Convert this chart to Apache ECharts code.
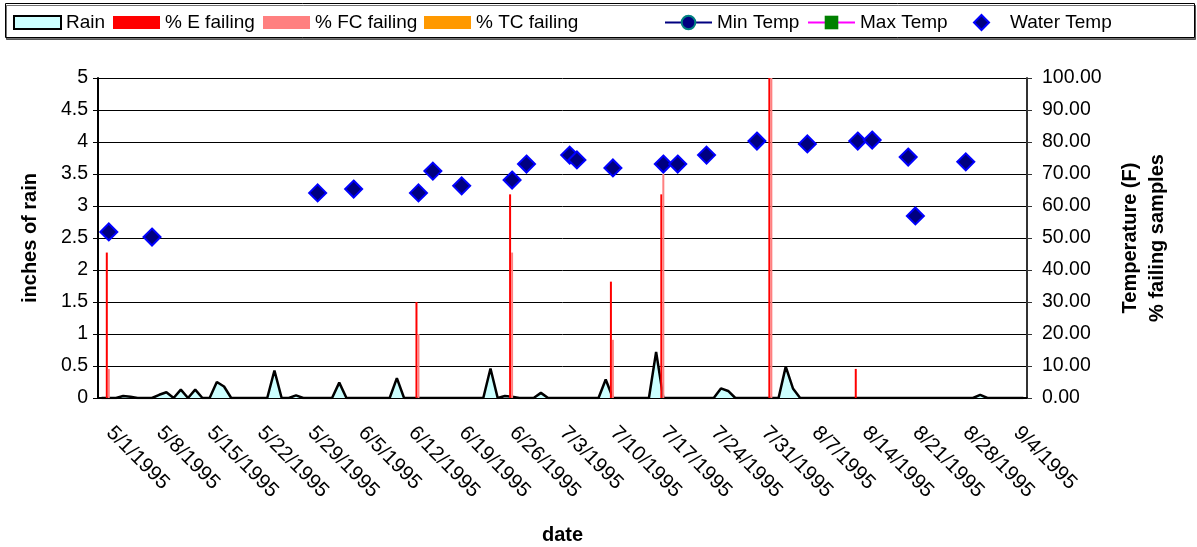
<!DOCTYPE html>
<html>
<head>
<meta charset="utf-8">
<script src="https://cdn.jsdelivr.net/npm/echarts@6/dist/echarts.min.js"></script>
<style>
  html, body { margin: 0; padding: 0; background: #fff; }
  #chart { width: 1197px; height: 547px; }
</style>
</head>
<body>
<div id="chart"></div>
<script>
// Daily date axis, 5/1/1995 through 9/6/1995
const firstDay = [1995, 5, 1];
const dayCount = 129;

// Rain (inches) on days with measurable rain; all other days are 0
const rainDates  = ['5/4', '5/5', '5/9', '5/10', '5/12', '5/14', '5/17', '5/18', '5/25', '5/28',
                    '6/3', '6/11', '6/24', '6/26', '6/27', '7/1', '7/10', '7/17', '7/26', '7/27',
                    '8/4', '8/5', '8/31'];
const rainInches = [0.03, 0.02, 0.05, 0.09, 0.13, 0.13, 0.25, 0.18, 0.43, 0.04,
                    0.24, 0.31, 0.46, 0.03, 0.02, 0.08, 0.29, 0.72, 0.15, 0.11,
                    0.49, 0.15, 0.05];

// Percent of samples failing, by sampling day
const sampleDates = ['5/2', '6/14', '6/27', '7/11', '7/18', '8/2', '8/14'];
const eFailing    = [45.45, 30.0, 63.64, 36.36, 63.64, 100.0, 9.09];
const fcFailing   = [9.09, 20.0, 45.45, 18.18, 70.0, 100.0, 0];
const tcFailing   = [0, 0, 0, 0, 0, 0, 0];

// Water temperature (F)
const waterDates = ['5/2', '5/8', '5/31', '6/5', '6/14', '6/16', '6/20', '6/27', '6/29', '7/5', '7/6',
                    '7/11', '7/18', '7/20', '7/24', '7/31', '8/7', '8/14', '8/16', '8/21', '8/22', '8/29'];
const waterTemp  = [51.9, 50.3, 64.1, 65.3, 64.1, 70.9, 66.3, 68.1, 73.1, 75.9, 74.4,
                    71.9, 73.1, 73.1, 75.9, 80.3, 79.4, 80.3, 80.6, 75.3, 56.9, 73.8];

// Min / Max air temperature (no readings plotted)
const minTemp = [];
const maxTemp = [];

const FONT = '"Liberation Sans", Arial, sans-serif';
const TICK_SIZE = 19.5;
const DATE_SIZE = 20.5;
const TITLE_SIZE = 20;

const categories = [];
for (let i = 0; i < dayCount; i++) {
  const d = new Date(Date.UTC(firstDay[0], firstDay[1] - 1, firstDay[2] + i));
  categories.push((d.getUTCMonth() + 1) + '/' + d.getUTCDate() + '/' + d.getUTCFullYear());
}
const indexOf = md => categories.indexOf(md + '/1995');

function daily(dates, values) {
  const out = new Array(dayCount).fill(null);
  dates.forEach((md, k) => { out[indexOf(md)] = values[k]; });
  return out;
}

const rainSeries = new Array(dayCount).fill(0);
rainDates.forEach((md, k) => { rainSeries[indexOf(md)] = rainInches[k]; });

// One legend block per entry so each sits at its own column
function legendEntry(left, item, iconHeight) {
  return {
    left: left, top: 13, padding: 0,
    itemWidth: 47, itemHeight: iconHeight || 13,
    textStyle: { fontSize: 19, color: '#000', fontFamily: FONT },
    data: [item]
  };
}

const chart = echarts.init(document.getElementById('chart'), null, { renderer: 'canvas' });

chart.setOption({
  animation: false,
  textStyle: { fontFamily: FONT },
  graphic: [{
    type: 'rect',
    shape: { x: 5.5, y: 3.5, width: 1189, height: 34 },
    style: { fill: '#fff', stroke: '#000', lineWidth: 1, shadowColor: 'rgba(0,0,0,0.55)', shadowOffsetX: 1, shadowOffsetY: 2 },
    z: -10
  }],
  legend: [
    legendEntry(13, { name: 'Rain', icon: 'rect', itemStyle: { color: '#CCFFFF', borderColor: '#000', borderWidth: 2 } }),
    legendEntry(113, { name: '% E failing', icon: 'rect' }),
    legendEntry(263, { name: '% FC failing', icon: 'rect' }),
    legendEntry(424, { name: '% TC failing', icon: 'rect' }),
    legendEntry(664, { name: 'Min Temp' }, 17),
    legendEntry(807, { name: 'Max Temp' }, 17),
    legendEntry(973, { name: 'Water Temp', icon: 'path://M8,0L16,8L8,16L0,8Z' }, 15)
  ],
  grid: { left: 98, right: 170, top: 78, bottom: 149, outerBoundsMode: 'none', containLabel: false },
  xAxis: [{
    type: 'category',
    data: categories,
    boundaryGap: true,
    name: 'date',
    nameLocation: 'middle',
    nameGap: 127,
    nameTextStyle: { fontSize: TITLE_SIZE, fontWeight: 'bold', color: '#000' },
    axisLine: { lineStyle: { color: '#000', width: 2 } },
    axisTick: { interval: 6, length: 6, lineStyle: { color: '#000' } },
    axisLabel: { interval: 6, rotate: -45, margin: 24, padding: [0, 0, 0, 11], fontSize: DATE_SIZE, color: '#000' },
    splitLine: { show: false }
  }, {
    type: 'category',
    data: categories,
    position: 'bottom',
    boundaryGap: true,
    axisLine: { show: false },
    axisTick: { interval: 0, inside: true, length: 4, lineStyle: { color: '#777' } },
    axisLabel: { show: false },
    splitLine: { show: false }
  }],
  yAxis: [{
    type: 'value',
    min: 0, max: 5, interval: 0.5,
    name: 'inches of rain',
    nameLocation: 'middle',
    nameRotate: 90,
    nameGap: 58,
    nameTextStyle: { fontSize: TITLE_SIZE, fontWeight: 'bold', color: '#000' },
    axisLine: { show: true, lineStyle: { color: '#000', width: 2 } },
    axisTick: { show: true, length: 5, lineStyle: { color: '#000' } },
    axisLabel: { fontSize: TICK_SIZE, color: '#000', margin: 10 },
    splitLine: { show: true, lineStyle: { color: '#000', width: 1 } }
  }, {
    type: 'value',
    position: 'right',
    min: 0, max: 100, interval: 10,
    name: 'Temperature (F)\n% failing samples',
    nameLocation: 'middle',
    nameRotate: 90,
    nameGap: 90,
    nameTextStyle: { fontSize: TITLE_SIZE, fontWeight: 'bold', color: '#000', lineHeight: 27 },
    axisLine: { show: true, lineStyle: { color: '#333', width: 2 } },
    axisTick: { show: true, length: 5, lineStyle: { color: '#333' } },
    axisLabel: { fontSize: TICK_SIZE, color: '#000', margin: 15, formatter: v => v.toFixed(2) },
    splitLine: { show: false }
  }],
  series: [{
    name: 'Rain',
    type: 'line',
    xAxisIndex: 0, yAxisIndex: 0,
    data: rainSeries,
    symbol: 'none',
    color: '#000',
    lineStyle: { color: '#000', width: 2.5 },
    areaStyle: { color: '#CCFFFF', opacity: 1 },
    z: 2
  }, {
    name: '% E failing',
    type: 'bar',
    yAxisIndex: 1,
    data: daily(sampleDates, eFailing),
    barWidth: 2, barGap: '0%',
    itemStyle: { color: '#FF0000' },
    z: 3
  }, {
    name: '% FC failing',
    type: 'bar',
    yAxisIndex: 1,
    data: daily(sampleDates, fcFailing),
    barWidth: 2, barGap: '0%',
    itemStyle: { color: '#FF8080' },
    z: 3
  }, {
    name: '% TC failing',
    type: 'bar',
    yAxisIndex: 1,
    data: daily(sampleDates, tcFailing),
    barWidth: 2, barGap: '0%',
    itemStyle: { color: '#FF9900' },
    z: 3
  }, {
    name: 'Min Temp',
    type: 'line',
    yAxisIndex: 1,
    data: minTemp,
    symbol: 'circle', symbolSize: 14,
    lineStyle: { color: '#000080', width: 1.5 },
    itemStyle: { color: '#000080', borderColor: '#008080', borderWidth: 2 }
  }, {
    name: 'Max Temp',
    type: 'line',
    yAxisIndex: 1,
    data: maxTemp,
    symbol: 'rect', symbolSize: 13,
    lineStyle: { color: '#FF00FF', width: 2 },
    itemStyle: { color: '#008000' }
  }, {
    name: 'Water Temp',
    type: 'scatter',
    yAxisIndex: 1,
    data: daily(waterDates, waterTemp),
    symbol: 'diamond', symbolSize: 17,
    itemStyle: { color: '#000080', borderColor: '#0000FF', borderWidth: 2, opacity: 1 },
    z: 5
  }]
});
</script>
</body>
</html>
